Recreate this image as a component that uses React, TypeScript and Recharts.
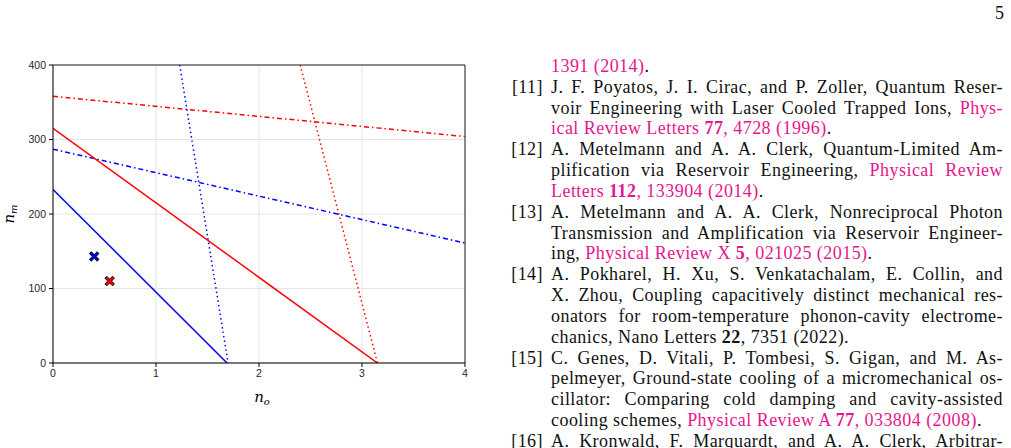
import React from "react";
import {
  ComposedChart,
  Line,
  Scatter,
  XAxis,
  YAxis,
  CartesianGrid,
  ReferenceLine,
  Label,
} from "recharts";

const xTicks = [0, 1, 2, 3, 4];
const yTicks = [0, 100, 200, 300, 400];

// endpoints of each boundary line (n_o, n_m)
const blueSolidX = [0, 1.69];
const blueSolidY = [233, 0];
const redSolidX = [0, 3.15];
const redSolidY = [315, 0];
const blueDotX = [1.23, 1.7];
const blueDotY = [400, 0];
const redDotX = [2.4, 3.15];
const redDotY = [400, 0];
const blueDashDotX = [0, 4];
const blueDashDotY = [287, 161];
const redDashDotX = [0, 4];
const redDashDotY = [358, 304];

// operating points
const blueMarkX = [0.4];
const blueMarkY = [143];
const redMarkX = [0.55];
const redMarkY = [110];

const zip = (xs: number[], ys: number[]) => xs.map((x, i) => ({ x, y: ys[i] }));

const BLUE = "#0000ff";
const RED = "#ff0000";
const PINK = "#e6168f";

const tickStyle = { fontFamily: "Liberation Sans", fontSize: 10.5, fill: "#262626" };

const XMarker = (props: any) => {
  const { cx, cy, fill } = props;
  const r = 4.8;
  const a = 1.9;
  const pts = [
    [0, -a], [r - a, -r], [r, -r + a], [a, 0], [r, r - a], [r - a, r],
    [0, a], [-r + a, r], [-r, r - a], [-a, 0], [-r, -r + a], [-r + a, -r],
  ];
  const d = pts.map((p, i) => `${i ? "L" : "M"}${cx + p[0]},${cy + p[1]}`).join("") + "Z";
  return <path d={d} fill={fill} stroke="#000" strokeWidth={0.9} />;
};

const YLabel = (props: any) => {
  const vb = props.viewBox;
  const x = vb.x + 1;
  const y = vb.y + vb.height / 2;
  return (
    <text x={x} y={y} transform={`rotate(-90 ${x} ${y})`} textAnchor="middle"
      fontFamily="DejaVu Serif" fontStyle="italic" fontSize={15} fill="#000">
      n<tspan fontSize={10} dy={3}>m</tspan>
    </text>
  );
};

const XLabel = (props: any) => {
  const vb = props.viewBox;
  const x = vb.x + vb.width / 2 + 3;
  const y = vb.y + 39;
  return (
    <text x={x} y={y} textAnchor="middle" fontFamily="DejaVu Serif" fontStyle="italic"
      fontSize={15} fill="#000">
      n<tspan fontSize={10} dy={3}>o</tspan>
    </text>
  );
};

// reference list on the right: [text, style] 0 normal, 1 link, 2 bold, 3 bold link
type Seg = [string, number];
const refLines: { label?: string; last?: boolean; segs: Seg[] }[] = [
  { last: true, segs: [["1391 (2014)", 1], [".", 0]] },
  { label: "[11]", segs: [["J. F. Poyatos, J. I. Cirac, and P. Zoller, Quantum Reser-", 0]] },
  { segs: [["voir Engineering with Laser Cooled Trapped Ions, ", 0], ["Phys-", 1]] },
  { last: true, segs: [["ical Review Letters ", 1], ["77", 3], [", 4728 (1996)", 1], [".", 0]] },
  { label: "[12]", segs: [["A. Metelmann and A. A. Clerk, Quantum-Limited Am-", 0]] },
  { segs: [["plification via Reservoir Engineering, ", 0], ["Physical Review", 1]] },
  { last: true, segs: [["Letters ", 1], ["112", 3], [", 133904 (2014)", 1], [".", 0]] },
  { label: "[13]", segs: [["A. Metelmann and A. A. Clerk, Nonreciprocal Photon", 0]] },
  { segs: [["Transmission and Amplification via Reservoir Engineer-", 0]] },
  { last: true, segs: [["ing, ", 0], ["Physical Review X ", 1], ["5", 3], [", 021025 (2015)", 1], [".", 0]] },
  { label: "[14]", segs: [["A. Pokharel, H. Xu, S. Venkatachalam, E. Collin, and", 0]] },
  { segs: [["X. Zhou, Coupling capacitively distinct mechanical res-", 0]] },
  { segs: [["onators for room-temperature phonon-cavity electrome-", 0]] },
  { last: true, segs: [["chanics, Nano Letters ", 0], ["22", 2], [", 7351 (2022).", 0]] },
  { label: "[15]", segs: [["C. Genes, D. Vitali, P. Tombesi, S. Gigan, and M. As-", 0]] },
  { segs: [["pelmeyer, Ground-state cooling of a micromechanical os-", 0]] },
  { segs: [["cillator: Comparing cold damping and cavity-assisted", 0]] },
  { last: true, segs: [["cooling schemes, ", 0], ["Physical Review A ", 1], ["77", 3], [", 033804 (2008)", 1], [".", 0]] },
  { label: "[16]", segs: [["A. Kronwald, F. Marquardt, and A. A. Clerk, Arbitrar-", 0]] },
];

const LINE_H = 20.83;

const RefColumn = () => (
  <div style={{ position: "absolute", left: 490, top: 56, width: 513, fontFamily: "Liberation Serif", fontSize: 18, letterSpacing: 0.45, color: "#111" }}>
    {refLines.map((ln, i) => (
      <div key={i} style={{ position: "absolute", top: i * LINE_H, left: 0, width: 513, height: LINE_H, lineHeight: `${LINE_H}px` }}>
        {ln.label && (
          <span style={{ position: "absolute", right: 513 - 53, whiteSpace: "nowrap" }}>{ln.label}</span>
        )}
        <div style={{ position: "absolute", left: 61, width: 452, whiteSpace: "nowrap", textAlign: ln.last ? "left" : "justify", textAlignLast: ln.last ? "left" : "justify" }}>
          {ln.segs.map(([t, s], j) => (
            <span key={j} style={{ color: s & 1 ? PINK : "#111", fontWeight: s >= 2 ? "bold" : "normal" }}>{t}</span>
          ))}
        </div>
      </div>
    ))}
  </div>
);

export default function App() {
  return (
    <div style={{ position: "absolute", left: 0, top: 0, width: 1011, height: 448, background: "#fff", overflow: "hidden" }}>
      <div style={{ position: "absolute", left: 995, top: 3, fontFamily: "Liberation Serif", fontSize: 18, color: "#111" }}>5</div>
      <div style={{ position: "absolute", left: 0, top: 0 }}>
        <ComposedChart width={480} height={420} margin={{ top: 65, right: 15, bottom: 27, left: 13 }}>
          <CartesianGrid stroke="#e4e4e4" strokeWidth={1} />
          <XAxis type="number" dataKey="x" domain={[0, 4]} ticks={xTicks} allowDataOverflow
            tick={tickStyle} tickSize={4} tickMargin={3} height={30}
            axisLine={{ stroke: "#000" }} tickLine={{ stroke: "#000" }}>
            <Label content={<XLabel />} />
          </XAxis>
          <YAxis type="number" dataKey="y" domain={[0, 400]} ticks={yTicks} allowDataOverflow
            tick={tickStyle} tickSize={4} tickMargin={3} width={40}
            axisLine={{ stroke: "#000" }} tickLine={{ stroke: "#000" }}>
            <Label content={<YLabel />} />
          </YAxis>
          <ReferenceLine y={400} stroke="#222" strokeWidth={1} />
          <ReferenceLine x={4} stroke="#222" strokeWidth={1} />
          <Line data={zip(redDashDotX, redDashDotY)} dataKey="y" type="linear" stroke={RED} strokeWidth={1.5}
            strokeDasharray="5 3 1.5 3" dot={false} activeDot={false} isAnimationActive={false} />
          <Line data={zip(blueDashDotX, blueDashDotY)} dataKey="y" type="linear" stroke={BLUE} strokeWidth={1.5}
            strokeDasharray="5 3 1.5 3" dot={false} activeDot={false} isAnimationActive={false} />
          <Line data={zip(blueDotX, blueDotY)} dataKey="y" type="linear" stroke={BLUE} strokeWidth={1.5}
            strokeDasharray="1.5 3" dot={false} activeDot={false} isAnimationActive={false} />
          <Line data={zip(redDotX, redDotY)} dataKey="y" type="linear" stroke={RED} strokeWidth={1.5}
            strokeDasharray="1.5 3" dot={false} activeDot={false} isAnimationActive={false} />
          <Line data={zip(redSolidX, redSolidY)} dataKey="y" type="linear" stroke={RED} strokeWidth={1.5}
            dot={false} activeDot={false} isAnimationActive={false} />
          <Line data={zip(blueSolidX, blueSolidY)} dataKey="y" type="linear" stroke={BLUE} strokeWidth={1.5}
            dot={false} activeDot={false} isAnimationActive={false} />
          <Scatter data={zip(blueMarkX, blueMarkY)} dataKey="y" fill="#0000ee" shape={<XMarker />} isAnimationActive={false} />
          <Scatter data={zip(redMarkX, redMarkY)} dataKey="y" fill="#ee0000" shape={<XMarker />} isAnimationActive={false} />
        </ComposedChart>
      </div>
      <RefColumn />
    </div>
  );
}
